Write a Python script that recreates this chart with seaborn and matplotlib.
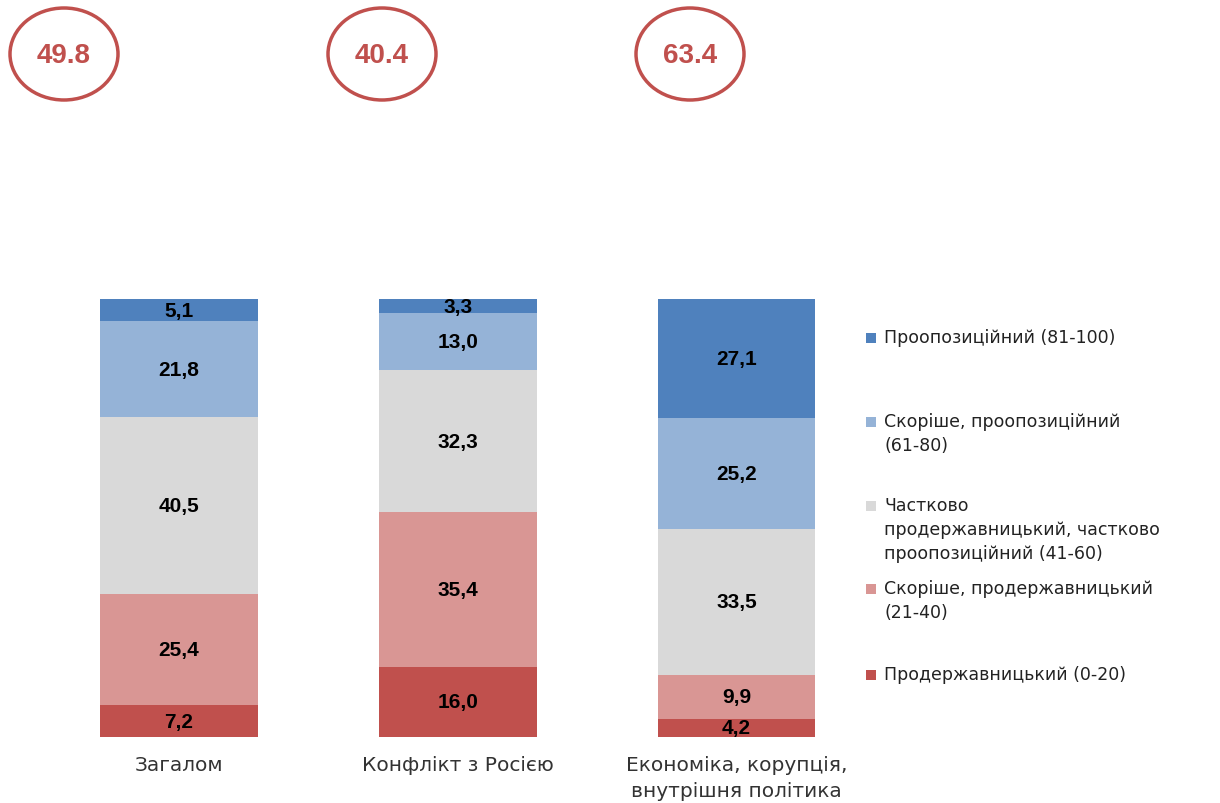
import numpy as np
import pandas as pd
import matplotlib
matplotlib.use("Agg")
import matplotlib.pyplot as plt
from matplotlib.patches import Ellipse, Rectangle
from matplotlib import font_manager
import seaborn as sns

categories = ["Загалом", "Конфлікт з Росією", "Економіка, корупція,\nвнутрішня політика"]
index_values = ["49.8", "40.4", "63.4"]
series_names = [
    "Продержавницький (0-20)",
    "Скоріше, продержавницький\n(21-40)",
    "Частково\nпродержавницький, частково\nпроопозиційний (41-60)",
    "Скоріше, проопозиційний\n(61-80)",
    "Проопозиційний (81-100)",
]
pro_state = [7.2, 16.0, 4.2]
rather_state = [25.4, 35.4, 9.9]
partial = [40.5, 32.3, 33.5]
rather_opp = [21.8, 13.0, 25.2]
pro_opp = [5.1, 3.3, 27.1]
colors = ["#C0504D", "#D99694", "#D9D9D9", "#95B3D7", "#4F81BD"]

series = [pro_state, rather_state, partial, rather_opp, pro_opp]
vals = np.array(series)
cum = np.cumsum(vals, axis=0)

sns.set_theme(style="white")
plt.rcParams["font.family"] = ["Liberation Sans", "DejaVu Sans"]

names = {f.name for f in font_manager.fontManager.ttflist}
narrow = "Liberation Sans Narrow" if "Liberation Sans Narrow" in names else "Liberation Sans"

fig = plt.figure(figsize=(12.2, 8.04), dpi=100)
ax = fig.add_axes([39.5 / 1220, 66 / 804, (876 - 39.5) / 1220, 438 / 804])

for i in range(len(series) - 1, -1, -1):
    df = pd.DataFrame({"cat": categories, "val": cum[i]})
    sns.barplot(data=df, x="cat", y="val", color=colors[i], width=0.566,
                saturation=1, ax=ax, linewidth=0, order=categories)

for i in range(len(series)):
    for j in range(len(categories)):
        bottom = cum[i][j] - vals[i][j]
        ax.text(j, bottom + vals[i][j] / 2, f"{vals[i][j]:.1f}".replace(".", ","),
                ha="center", va="center", fontsize=15, fontweight="bold", color="#000000")

ax.set_xlim(-0.5, 2.5)
ax.set_ylim(0, 100)
ax.set_xlabel("")
ax.set_ylabel("")
ax.set_yticks([])
ax.tick_params(axis="x", length=0, pad=13)
for lbl in ax.get_xticklabels():
    lbl.set_color("#333333")
    lbl.set_fontfamily(["DejaVu Sans"])
    lbl.set_fontsize(14.5)
    lbl.set_verticalalignment("top")
    lbl.set_linespacing(1.45)
for s in ax.spines.values():
    s.set_visible(False)

# circled index values
centers_px = [64, 382, 690]
for cx, txt in zip(centers_px, index_values):
    e = Ellipse((cx / 1220, 1 - 55 / 804), 108 / 1220, 92 / 804, transform=fig.transFigure,
                fill=False, edgecolor="#C0504D", linewidth=2.5)
    fig.add_artist(e)
    fig.text(cx / 1220, 1 - 56 / 804, txt, ha="center", va="center", fontsize=20,
             fontweight="bold", color="#C0504D", family=[narrow, "DejaVu Sans"])

# legend
legend_y_px = [339, 423, 507, 590, 676]
for k in range(len(series) - 1, -1, -1):
    y = legend_y_px[len(series) - 1 - k]
    fig.add_artist(Rectangle((866 / 1220, 1 - (y + 5) / 804), 10 / 1220, 10 / 804,
                             transform=fig.transFigure, facecolor=colors[k], edgecolor="none"))
    fig.text(884 / 1220, 1 - (y - 10) / 804, series_names[k], ha="left", va="top",
             fontsize=12.5, color="#222222", linespacing=1.42, family=["DejaVu Sans"])

fig.savefig("out.png", dpi=100)
